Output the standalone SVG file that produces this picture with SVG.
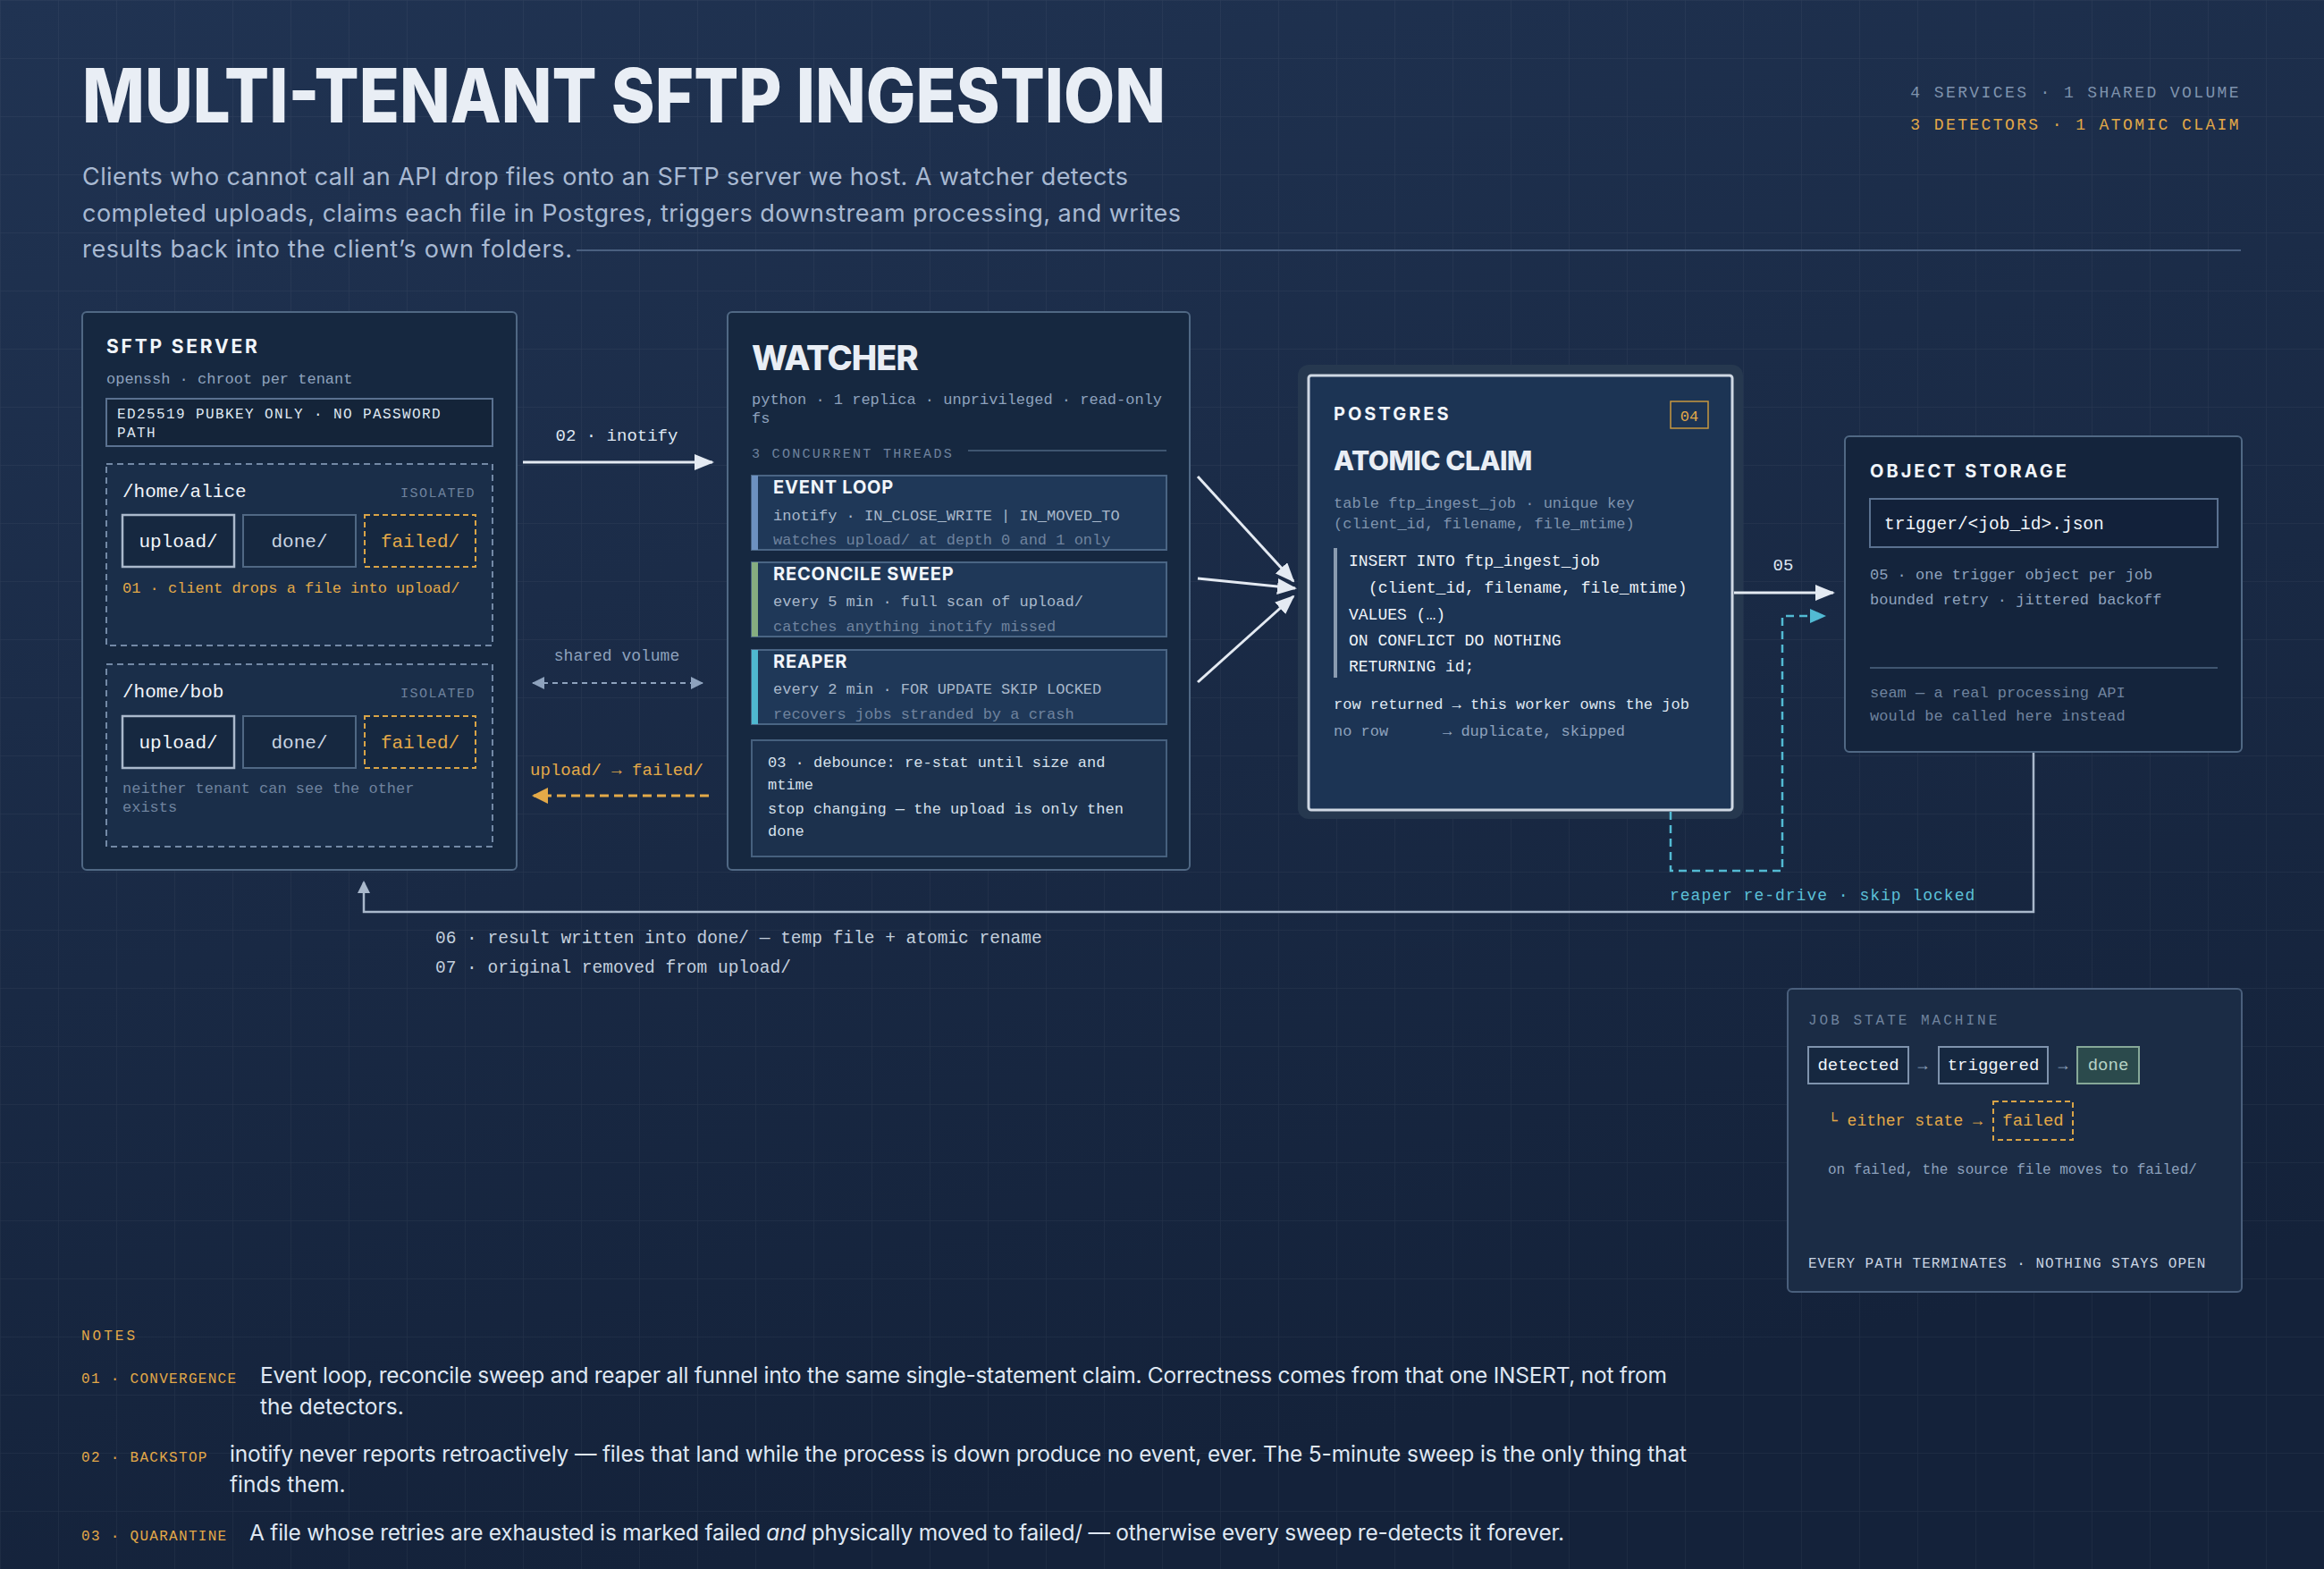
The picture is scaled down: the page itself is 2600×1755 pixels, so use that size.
<svg xmlns="http://www.w3.org/2000/svg" width="2600" height="1755" viewBox="0 0 2600 1755">
<defs>
<linearGradient id="bg" x1="0" y1="0" x2="0.3" y2="1">
<stop offset="0" stop-color="#203352"/>
<stop offset="1" stop-color="#14223a"/>
</linearGradient>
<pattern id="grid" width="65" height="65" patternUnits="userSpaceOnUse">
<path d="M65 0 L0 0 0 65" fill="none" stroke="#ffffff" stroke-opacity="0.05" stroke-width="1.5"/>
</pattern>
<marker id="ahW" markerUnits="userSpaceOnUse" markerWidth="22" markerHeight="18" refX="20" refY="9" orient="auto"><path d="M0,0 L22,9 L0,18 z" fill="#e4eaf2"/></marker>
<marker id="ahG" markerUnits="userSpaceOnUse" markerWidth="14" markerHeight="14" refX="13" refY="7" orient="auto-start-reverse"><path d="M0,0 L14,7 L0,14 z" fill="#8ea2bd"/></marker>
<marker id="ahA" markerUnits="userSpaceOnUse" markerWidth="18" markerHeight="18" refX="16" refY="9" orient="auto"><path d="M0,0 L18,9 L0,18 z" fill="#e3a948"/></marker>
<marker id="ahC" markerUnits="userSpaceOnUse" markerWidth="18" markerHeight="16" refX="16" refY="8" orient="auto"><path d="M0,0 L18,8 L0,16 z" fill="#52bad3"/></marker>
<marker id="ahS" markerUnits="userSpaceOnUse" markerWidth="14" markerHeight="16" refX="12" refY="7" orient="auto"><path d="M0,0 L14,7 L0,14 z" fill="#a9b8cb"/></marker>
</defs>
<style>
.sans{font-family:Inter,"Liberation Sans",sans-serif}
.mono{font-family:"Liberation Mono","DejaVu Sans Mono",monospace}
.title{font-family:Inter,"Liberation Sans",sans-serif;font-weight:800;fill:#e9eef5}
.sub{font-family:Inter,"Liberation Sans",sans-serif;font-size:27px;fill:#a8b9d2}
.card{fill:#162840;stroke:#506884;stroke-width:2}
.head{font-family:Inter,"Liberation Sans",sans-serif;font-weight:700;fill:#f1f5fa}
.m17{font-family:"Liberation Mono","DejaVu Sans Mono",monospace;font-size:17px}
.g{fill:#8ea2bd}
.dim{fill:#6f839e}
.lt{fill:#dfe7f2}
.wh{fill:#f1f5fa}
.amb{fill:#e3a948}
.cy{fill:#5cc0d8}
.tenant{fill:#1a2e49;stroke:#7389a6;stroke-width:2;stroke-dasharray:7 5}
.fold{fill:#162840;stroke:#506884;stroke-width:2}
.foldU{fill:#162840;stroke:#aab9cc;stroke-width:2.5}
.foldF{fill:#162840;stroke:#d9a447;stroke-width:2;stroke-dasharray:6 4}
.thread{fill:#1f3858;stroke:#4a6584;stroke-width:2}
.conn{fill:none;stroke:#e4eaf2;stroke-width:3}
</style>
<rect width="2600" height="1755" fill="url(#bg)"/>
<rect width="2600" height="1755" fill="url(#grid)"/>

<g id="header">
<text x="92" y="137" class="title" font-size="84" textLength="1212" lengthAdjust="spacingAndGlyphs">MULTI-TENANT SFTP INGESTION</text>
<text x="92" y="207" class="sub" textLength="1170">Clients who cannot call an API drop files onto an SFTP server we host. A watcher detects</text>
<text x="92" y="248" class="sub" textLength="1229">completed uploads, claims each file in Postgres, triggers downstream processing, and writes</text>
<text x="92" y="288" class="sub" textLength="548">results back into the client’s own folders.</text>
<line x1="645" y1="280" x2="2507" y2="280" stroke="#4a6080" stroke-width="2"/>
<text x="2507" y="109" class="mono" font-size="18" letter-spacing="2.4" text-anchor="end" fill="#7f93ad">4 SERVICES · 1 SHARED VOLUME</text>
<text x="2507" y="145" class="mono" font-size="18" letter-spacing="2.4" text-anchor="end" fill="#e3a948">3 DETECTORS · 1 ATOMIC CLAIM</text>
</g>

<g id="sftp-server">
<rect x="92" y="349" width="486" height="624" rx="5" class="card"/>
<text x="119" y="395" class="head" font-size="21" letter-spacing="2.8">SFTP SERVER</text>
<text x="119" y="429" class="m17 g">openssh · chroot per tenant</text>
<rect x="119" y="446" width="432" height="53" fill="#142439" stroke="#5a7190" stroke-width="2"/>
<text x="131" y="468" class="mono lt" font-size="16" letter-spacing="1.4">ED25519 PUBKEY ONLY · NO PASSWORD</text>
<text x="131" y="489" class="mono lt" font-size="16" letter-spacing="1.4">PATH</text>
<g id="tenant-alice">
<rect x="119" y="519" width="432" height="203" class="tenant"/>
<text x="137" y="556" class="mono wh" font-size="21">/home/alice</text>
<text x="532" y="556" class="mono dim" font-size="15" letter-spacing="1.5" text-anchor="end">ISOLATED</text>
<rect x="137" y="576" width="125" height="58" class="foldU"/>
<rect x="272" y="576" width="126" height="58" class="fold"/>
<rect x="408" y="576" width="124" height="58" class="foldF"/>
<text x="199.5" y="612" class="mono wh" font-size="21" text-anchor="middle">upload/</text>
<text x="335" y="612" class="mono" fill="#c9d4e2" font-size="21" text-anchor="middle">done/</text>
<text x="470" y="612" class="mono amb" font-size="21" text-anchor="middle">failed/</text>
<text x="137" y="663" class="m17 amb">01 · client drops a file into upload/</text>
</g>
<g id="tenant-bob">
<rect x="119" y="743" width="432" height="204" class="tenant"/>
<text x="137" y="780" class="mono wh" font-size="21">/home/bob</text>
<text x="532" y="780" class="mono dim" font-size="15" letter-spacing="1.5" text-anchor="end">ISOLATED</text>
<rect x="137" y="801" width="125" height="58" class="foldU"/>
<rect x="272" y="801" width="126" height="58" class="fold"/>
<rect x="408" y="801" width="124" height="58" class="foldF"/>
<text x="199.5" y="837" class="mono wh" font-size="21" text-anchor="middle">upload/</text>
<text x="335" y="837" class="mono" fill="#c9d4e2" font-size="21" text-anchor="middle">done/</text>
<text x="470" y="837" class="mono amb" font-size="21" text-anchor="middle">failed/</text>
<text x="137" y="887" class="m17 dim">neither tenant can see the other</text>
<text x="137" y="908" class="m17 dim">exists</text>
</g>
</g>

<g id="watcher">
<rect x="814" y="349" width="517" height="624" rx="5" class="card"/>
<text x="841" y="414" class="title" font-size="38" letter-spacing="-1">WATCHER</text>
<text x="841" y="452" class="m17 g">python · 1 replica · unprivileged · read-only</text>
<text x="841" y="473" class="m17 g">fs</text>
<text x="841" y="512" class="mono dim" font-size="15" letter-spacing="2.3">3 CONCURRENT THREADS</text>
<line x1="1083" y1="504" x2="1305" y2="504" stroke="#3f5570" stroke-width="2"/>
<g id="event-loop">
<rect x="841" y="532" width="464" height="83" class="thread"/>
<rect x="841" y="532" width="7" height="83" fill="#6d91c0"/>
<text x="865" y="552" class="head" font-size="20" letter-spacing="0.8">EVENT LOOP</text>
<text x="865" y="582" class="m17" fill="#a9b8cb">inotify · IN_CLOSE_WRITE | IN_MOVED_TO</text>
<text x="865" y="609" class="m17 dim">watches upload/ at depth 0 and 1 only</text>
</g>
<g id="reconcile-sweep">
<rect x="841" y="629" width="464" height="83" class="thread"/>
<rect x="841" y="629" width="7" height="83" fill="#86ad80"/>
<text x="865" y="649" class="head" font-size="20" letter-spacing="0.8">RECONCILE SWEEP</text>
<text x="865" y="678" class="m17" fill="#a9b8cb">every 5 min · full scan of upload/</text>
<text x="865" y="706" class="m17 dim">catches anything inotify missed</text>
</g>
<g id="reaper">
<rect x="841" y="727" width="464" height="83" class="thread" stroke="#3d7891"/>
<rect x="841" y="727" width="7" height="83" fill="#4fb8d0"/>
<text x="865" y="747" class="head" font-size="20" letter-spacing="0.8">REAPER</text>
<text x="865" y="776" class="m17" fill="#a9b8cb">every 2 min · FOR UPDATE SKIP LOCKED</text>
<text x="865" y="804" class="m17 dim">recovers jobs stranded by a crash</text>
</g>
<g id="debounce">
<rect x="841" y="828" width="464" height="130" fill="#1c314d" stroke="#46607e" stroke-width="2"/>
<text x="859" y="858" class="m17" fill="#d6e0ec">03 · debounce: re-stat until size and</text>
<text x="859" y="883" class="m17" fill="#d6e0ec">mtime</text>
<text x="859" y="910" class="m17" fill="#d6e0ec">stop changing — the upload is only then</text>
<text x="859" y="935" class="m17" fill="#d6e0ec">done</text>
</g>
</g>

<g id="postgres">
<rect x="1452" y="408" width="498" height="508" rx="12" fill="#26384f"/>
<rect x="1464" y="420" width="474" height="486" rx="3" fill="#1c3454" stroke="#cfd8e3" stroke-width="3"/>
<text x="1492" y="470" class="head" font-size="20" letter-spacing="3">POSTGRES</text>
<rect x="1869" y="449" width="42" height="30" fill="none" stroke="#c8983f" stroke-width="1.5"/>
<text x="1890" y="471" class="mono amb" font-size="17" text-anchor="middle">04</text>
<text x="1492" y="526" class="title" font-size="30" letter-spacing="-0.5">ATOMIC CLAIM</text>
<text x="1492" y="568" class="m17" fill="#7f93ad">table ftp_ingest_job · unique key</text>
<text x="1492" y="591" class="m17" fill="#7f93ad">(client_id, filename, file_mtime)</text>
<rect x="1492" y="613" width="4" height="145" fill="#8a9bb0"/>
<text class="mono" font-size="18" fill="#eef3f8">
<tspan x="1509" y="633">INSERT INTO ftp_ingest_job</tspan>
<tspan x="1531" y="663">(client_id, filename, file_mtime)</tspan>
<tspan x="1509" y="693">VALUES (…)</tspan>
<tspan x="1509" y="722">ON CONFLICT DO NOTHING</tspan>
<tspan x="1509" y="751">RETURNING id;</tspan>
</text>
<text x="1492" y="793" class="m17 lt">row returned → this worker owns the job</text>
<text x="1492" y="823" class="m17 g">no row</text>
<text x="1614" y="823" class="m17 g">→ duplicate, skipped</text>
</g>

<g id="object-storage">
<rect x="2064" y="488" width="444" height="353" rx="5" fill="#14243c" stroke="#506884" stroke-width="2"/>
<text x="2092" y="534" class="head" font-size="20" letter-spacing="3">OBJECT STORAGE</text>
<rect x="2092" y="558" width="389" height="54" fill="#12213a" stroke="#5a7190" stroke-width="2"/>
<text x="2108" y="592" class="mono wh" font-size="19.5">trigger/&lt;job_id&gt;.json</text>
<text x="2092" y="648" class="m17 g">05 · one trigger object per job</text>
<text x="2092" y="676" class="m17 g">bounded retry · jittered backoff</text>
<line x1="2092" y1="747" x2="2481" y2="747" stroke="#3f5570" stroke-width="2"/>
<text x="2092" y="780" class="m17 dim">seam — a real processing API</text>
<text x="2092" y="806" class="m17 dim">would be called here instead</text>
</g>

<g id="job-state-machine">
<rect x="2000" y="1106" width="508" height="339" rx="5" fill="#1b2c45" stroke="#4a5f7c" stroke-width="2"/>
<text x="2023" y="1146" class="mono dim" font-size="16" letter-spacing="3">JOB STATE MACHINE</text>
<rect x="2023" y="1171" width="112" height="41" fill="#162840" stroke="#7f93ad" stroke-width="2"/>
<text x="2079" y="1197" class="mono wh" font-size="19" text-anchor="middle">detected</text>
<text x="2151" y="1197" class="mono g" font-size="18" text-anchor="middle">→</text>
<rect x="2169" y="1171" width="122" height="41" fill="#162840" stroke="#7f93ad" stroke-width="2"/>
<text x="2230" y="1197" class="mono wh" font-size="19" text-anchor="middle">triggered</text>
<text x="2308" y="1197" class="mono g" font-size="18" text-anchor="middle">→</text>
<rect x="2324" y="1171" width="69" height="41" fill="#2b4a4c" stroke="#86a898" stroke-width="2"/>
<text x="2358.5" y="1197" class="mono" fill="#b7d3c5" font-size="19" text-anchor="middle">done</text>
<text x="2045" y="1259" class="mono amb" font-size="18">└ either state →</text>
<rect x="2230" y="1232" width="89" height="43" fill="none" stroke="#d9a447" stroke-width="2" stroke-dasharray="6 4"/>
<text x="2274.5" y="1259" class="mono amb" font-size="19" text-anchor="middle">failed</text>
<text x="2045" y="1313" class="mono g" font-size="16">on failed, the source file moves to failed/</text>
<text x="2023" y="1418" class="mono" fill="#c9d4e2" font-size="16" letter-spacing="1">EVERY PATH TERMINATES · NOTHING STAYS OPEN</text>
</g>

<g id="connectors">
<line x1="585" y1="517" x2="797" y2="517" class="conn" marker-end="url(#ahW)"/>
<text x="690" y="493" class="mono lt" font-size="19" text-anchor="middle">02 · inotify</text>
<line x1="596" y1="764" x2="786" y2="764" stroke="#8ea2bd" stroke-width="2" stroke-dasharray="6 5" marker-start="url(#ahG)" marker-end="url(#ahG)"/>
<text x="690" y="739" class="mono g" font-size="18" text-anchor="middle">shared volume</text>
<line x1="793" y1="890" x2="597" y2="890" stroke="#e3a948" stroke-width="3" stroke-dasharray="10 6" marker-end="url(#ahA)"/>
<text x="690" y="867" class="mono amb" font-size="19" text-anchor="middle">upload/ → failed/</text>
<line x1="1340" y1="533" x2="1447" y2="650" class="conn" marker-end="url(#ahW)"/>
<line x1="1340" y1="647" x2="1449" y2="658" class="conn" marker-end="url(#ahW)"/>
<line x1="1340" y1="763" x2="1447" y2="667" class="conn" marker-end="url(#ahW)"/>
<line x1="1940" y1="663" x2="2051" y2="663" class="conn" marker-end="url(#ahW)"/>
<text x="1995" y="638" class="mono lt" font-size="19" text-anchor="middle">05</text>
<path d="M1869,908 L1869,974 L1994,974 L1994,689 L2041,689" fill="none" stroke="#52bad3" stroke-width="2.5" stroke-dasharray="9 6" marker-end="url(#ahC)"/>
<text x="1868" y="1007" class="mono cy" font-size="18" letter-spacing="1">reaper re-drive · skip locked</text>
<path d="M2275,842 L2275,1020 L407,1020 L407,987" fill="none" stroke="#a9b8cb" stroke-width="2.5" marker-end="url(#ahS)"/>
<text x="487" y="1055" class="mono" fill="#c3cfdd" font-size="19.5">06 · result written into done/ — temp file + atomic rename</text>
<text x="487" y="1088" class="mono" fill="#c3cfdd" font-size="19.5">07 · original removed from upload/</text>
</g>

<g id="notes">
<text x="91" y="1499" class="mono amb" font-size="16" letter-spacing="3">NOTES</text>
<text x="91" y="1547" class="mono amb" font-size="16" letter-spacing="1.3">01 · CONVERGENCE</text>
<text x="291" y="1547" class="sans lt" font-size="24.5" textLength="1574">Event loop, reconcile sweep and reaper all funnel into the same single-statement claim. Correctness comes from that one INSERT, not from</text>
<text x="291" y="1582" class="sans lt" font-size="24.5">the detectors.</text>
<text x="91" y="1635" class="mono amb" font-size="16" letter-spacing="1.3">02 · BACKSTOP</text>
<text x="257" y="1635" class="sans lt" font-size="24.5" textLength="1630">inotify never reports retroactively — files that land while the process is down produce no event, ever. The 5-minute sweep is the only thing that</text>
<text x="257" y="1669" class="sans lt" font-size="24.5">finds them.</text>
<text x="91" y="1723" class="mono amb" font-size="16" letter-spacing="1.3">03 · QUARANTINE</text>
<text x="279" y="1723" class="sans lt" font-size="24.5" textLength="1471">A file whose retries are exhausted is marked failed <tspan font-style="italic">and</tspan> physically moved to failed/ — otherwise every sweep re-detects it forever.</text>
</g>
</svg>
